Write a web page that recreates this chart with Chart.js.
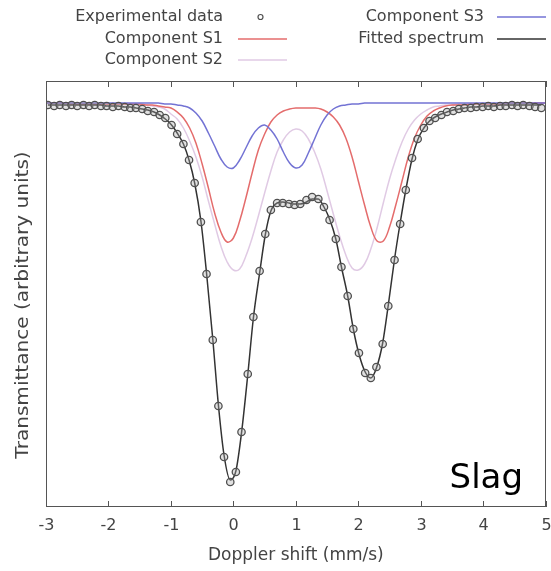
<!DOCTYPE html>
<html>
<head>
<meta charset="utf-8">
<script src="https://cdn.jsdelivr.net/npm/chart.js@4/dist/chart.umd.min.js"></script>
<style>
  html, body { margin: 0; padding: 0; background: #fff; }
</style>
</head>
<body>
<canvas id="spectrum" width="551" height="571"></canvas>
<script>
// Doppler velocity of each measured channel (mm/s)
const channelVelocity = [
  -2.97, -2.87, -2.78, -2.68, -2.59, -2.50, -2.40, -2.31, -2.22, -2.12,
  -2.03, -1.93, -1.84, -1.74, -1.65, -1.56, -1.46, -1.37, -1.27, -1.18,
  -1.09, -0.99, -0.90, -0.80, -0.71, -0.62, -0.52, -0.43, -0.33, -0.24,
  -0.15, -0.05, 0.04, 0.13, 0.23, 0.32, 0.42, 0.51, 0.60, 0.70,
  0.79, 0.89, 0.98, 1.07, 1.17, 1.26, 1.36, 1.45, 1.54, 1.64,
  1.73, 1.83, 1.92, 2.01, 2.11, 2.20, 2.29, 2.39, 2.48, 2.58,
  2.67, 2.76, 2.86, 2.95, 3.05, 3.14, 3.23, 3.33, 3.42, 3.52,
  3.61, 3.70, 3.80, 3.89, 3.99, 4.08, 4.17, 4.27, 4.36, 4.46,
  4.55, 4.64, 4.74, 4.83, 4.93
];

// measured transmittance per channel
const measured = [
  0.998, 0.997, 0.998, 0.997, 0.998, 0.997, 0.998, 0.997, 0.998, 0.997,
  0.997, 0.996, 0.997, 0.996, 0.995, 0.995, 0.994, 0.992, 0.991, 0.988,
  0.985, 0.978, 0.969, 0.959, 0.943, 0.920, 0.881, 0.829, 0.763, 0.697,
  0.646, 0.621, 0.631, 0.671, 0.729, 0.786, 0.832, 0.869, 0.893, 0.900,
  0.900, 0.899, 0.898, 0.899, 0.903, 0.906, 0.904, 0.896, 0.883, 0.864,
  0.836, 0.807, 0.774, 0.750, 0.730, 0.725, 0.736, 0.759, 0.797, 0.843,
  0.879, 0.913, 0.945, 0.964, 0.975, 0.982, 0.985, 0.988, 0.991, 0.992,
  0.994, 0.995, 0.995, 0.996, 0.996, 0.997, 0.996, 0.997, 0.997, 0.998,
  0.997, 0.998, 0.997, 0.996, 0.995
];

// fitted envelope on the same channels
const fitted = [
  0.998, 0.998, 0.998, 0.998, 0.998, 0.998, 0.998, 0.998, 0.998, 0.998,
  0.997, 0.997, 0.997, 0.996, 0.996, 0.995, 0.994, 0.993, 0.991, 0.988,
  0.984, 0.978, 0.970, 0.959, 0.943, 0.920, 0.882, 0.830, 0.764, 0.698,
  0.648, 0.623, 0.632, 0.670, 0.728, 0.785, 0.830, 0.868, 0.892, 0.900,
  0.901, 0.900, 0.899, 0.899, 0.901, 0.904, 0.904, 0.896, 0.884, 0.864,
  0.836, 0.807, 0.774, 0.749, 0.731, 0.725, 0.735, 0.760, 0.798, 0.844,
  0.880, 0.913, 0.944, 0.963, 0.975, 0.982, 0.986, 0.989, 0.991, 0.993,
  0.994, 0.995, 0.996, 0.996, 0.997, 0.997, 0.997, 0.998, 0.998, 0.998,
  0.998, 0.998, 0.998, 0.998, 0.998
];

// velocity grid for the sub-spectra
const componentVelocity = [
  -3.0, -2.9, -2.8, -2.7, -2.6, -2.5, -2.4, -2.3, -2.2, -2.1,
  -2.0, -1.9, -1.8, -1.7, -1.6, -1.5, -1.4, -1.3, -1.2, -1.1,
  -1.0, -0.9, -0.8, -0.7, -0.6, -0.5, -0.4, -0.3, -0.2, -0.1,
  0.0, 0.1, 0.2, 0.3, 0.4, 0.5, 0.6, 0.7, 0.8, 0.9,
  1.0, 1.1, 1.2, 1.3, 1.4, 1.5, 1.6, 1.7, 1.8, 1.9,
  2.0, 2.1, 2.2, 2.3, 2.4, 2.5, 2.6, 2.7, 2.8, 2.9,
  3.0, 3.1, 3.2, 3.3, 3.4, 3.5, 3.6, 3.7, 3.8, 3.9,
  4.0, 4.1, 4.2, 4.3, 4.4, 4.5, 4.6, 4.7, 4.8, 4.9,
  5.0
];

const componentS1 = [
  1.000, 1.000, 1.000, 1.000, 0.999, 0.999, 0.999, 0.999, 0.999, 0.999,
  0.999, 0.999, 0.999, 0.999, 0.999, 0.999, 0.998, 0.998, 0.997, 0.996,
  0.995, 0.991, 0.985, 0.975, 0.960, 0.939, 0.915, 0.890, 0.871, 0.861,
  0.865, 0.882, 0.905, 0.930, 0.953, 0.969, 0.981, 0.988, 0.992, 0.994,
  0.995, 0.995, 0.995, 0.995, 0.994, 0.991, 0.986, 0.978, 0.965, 0.946,
  0.922, 0.898, 0.876, 0.862, 0.862, 0.876, 0.898, 0.922, 0.946, 0.965,
  0.978, 0.987, 0.992, 0.995, 0.997, 0.998, 0.998, 0.998, 0.999, 0.999,
  0.999, 0.999, 0.999, 0.999, 1.000, 1.000, 1.000, 1.000, 1.000, 1.000,
  1.000
];

const componentS2 = [
  1.000, 1.000, 1.000, 1.000, 1.000, 1.000, 0.999, 0.999, 0.999, 0.999,
  0.999, 0.999, 0.999, 0.999, 0.999, 0.998, 0.998, 0.997, 0.996, 0.994,
  0.989, 0.984, 0.975, 0.962, 0.946, 0.926, 0.902, 0.879, 0.857, 0.841,
  0.833, 0.834, 0.847, 0.865, 0.887, 0.910, 0.932, 0.951, 0.963, 0.971,
  0.974, 0.972, 0.964, 0.951, 0.934, 0.912, 0.889, 0.867, 0.848, 0.835,
  0.833, 0.839, 0.854, 0.875, 0.900, 0.924, 0.944, 0.961, 0.974, 0.983,
  0.989, 0.993, 0.996, 0.997, 0.998, 0.998, 0.999, 0.999, 0.999, 0.999,
  0.999, 0.999, 0.999, 0.999, 0.999, 1.000, 1.000, 1.000, 1.000, 1.000,
  1.000
];

const componentS3 = [
  1.000, 1.000, 1.000, 1.000, 1.000, 1.000, 1.000, 1.000, 1.000, 1.000,
  1.000, 1.000, 1.000, 1.000, 1.000, 1.000, 1.000, 1.000, 1.000, 0.999,
  0.999, 0.998, 0.997, 0.995, 0.990, 0.982, 0.970, 0.957, 0.944, 0.936,
  0.935, 0.943, 0.955, 0.967, 0.975, 0.978, 0.973, 0.964, 0.951, 0.940,
  0.935, 0.938, 0.950, 0.964, 0.978, 0.988, 0.994, 0.997, 0.998, 0.999,
  0.999, 1.000, 1.000, 1.000, 1.000, 1.000, 1.000, 1.000, 1.000, 1.000,
  1.000, 1.000, 1.000, 1.000, 1.000, 1.000, 1.000, 1.000, 1.000, 1.000,
  1.000, 1.000, 1.000, 1.000, 1.000, 1.000, 1.000, 1.000, 1.000, 1.000,
  1.000
];

const velocityTicks = [-3, -2, -1, 0, 1, 2, 3, 4, 5];

const textFont = '"DejaVu Sans", sans-serif';
const textColor = '#444';

function toPoints(xs, ys) {
    return xs.map((x, i) => ({ x: x, y: ys[i] }));
}

// legend in two right-aligned columns, gnuplot style
const legendSlots = [
    { label: 'Experimental data', right: 223, y: 17, x0: 238, x1: 287 },
    { label: 'Component S1', right: 223, y: 39, x0: 238, x1: 287 },
    { label: 'Component S2', right: 223, y: 60, x0: 238, x1: 287 },
    { label: 'Component S3', right: 484, y: 17, x0: 497, x1: 546 },
    { label: 'Fitted spectrum', right: 484, y: 39, x0: 497, x1: 546 }
];

const framePlugin = {
    id: 'frameAndText',
    afterDraw(chart) {
        const c = chart.ctx;
        const area = chart.chartArea;
        const xScale = chart.scales.x;
        c.save();

        // plot border
        c.strokeStyle = '#555';
        c.lineWidth = 1;
        c.strokeRect(Math.round(area.left) + 0.5, Math.round(area.top) + 0.5,
            Math.round(area.right - area.left) - 1, Math.round(area.bottom - area.top) - 1);

        // inward ticks on top and bottom, labels underneath
        c.font = '16px ' + textFont;
        c.fillStyle = textColor;
        c.textAlign = 'center';
        c.textBaseline = 'middle';
        velocityTicks.forEach(v => {
            const px = Math.round(xScale.getPixelForValue(v)) + 0.5;
            c.beginPath();
            c.moveTo(px, area.bottom);
            c.lineTo(px, area.bottom - 6);
            c.moveTo(px, area.top);
            c.lineTo(px, area.top + 6);
            c.stroke();
            c.fillText(String(v), px, area.bottom + 19);
        });

        // axis titles
        c.font = '17px ' + textFont;
        c.fillText('Doppler shift (mm/s)', (area.left + area.right) / 2, area.bottom + 49);
        c.save();
        c.translate(24, 305);
        c.rotate(-Math.PI / 2);
        c.scale(1.18, 1);
        c.fillText('Transmittance (arbitrary units)', 0, 0);
        c.restore();

        // legend
        c.font = '16px ' + textFont;
        c.textAlign = 'right';
        legendSlots.forEach(slot => {
            const ds = chart.data.datasets.find(d => d.label === slot.label);
            c.fillStyle = textColor;
            c.fillText(slot.label, slot.right, slot.y);
            if (ds.showLine === false) {
                c.beginPath();
                c.arc((slot.x0 + slot.x1) / 2 - 2, slot.y, 2.5, 0, Math.PI * 2);
                c.strokeStyle = ds.pointBorderColor;
                c.lineWidth = 1.2;
                c.stroke();
            } else {
                c.beginPath();
                c.moveTo(slot.x0, slot.y);
                c.lineTo(slot.x1, slot.y);
                c.strokeStyle = ds.borderColor;
                c.lineWidth = ds.borderWidth;
                c.stroke();
            }
        });

        // sample name
        c.font = '34px ' + textFont;
        c.fillStyle = '#000';
        c.textAlign = 'right';
        c.textBaseline = 'alphabetic';
        c.fillText('Slag', 523, 488);

        c.restore();
    }
};

new Chart(document.getElementById('spectrum'), {
    type: 'line',
    data: {
        datasets: [
            {
                label: 'Experimental data',
                data: toPoints(channelVelocity, measured),
                showLine: false,
                pointRadius: 3.7,
                pointBorderWidth: 1.3,
                pointBorderColor: '#505050',
                pointBackgroundColor: 'rgba(170,170,170,0.35)',
                order: 0
            },
            {
                label: 'Fitted spectrum',
                data: toPoints(channelVelocity, fitted),
                borderColor: '#333333',
                borderWidth: 1.5,
                pointRadius: 0,
                cubicInterpolationMode: 'monotone',
                order: 1
            },
            {
                label: 'Component S3',
                data: toPoints(componentVelocity, componentS3),
                borderColor: 'rgb(115,115,212)',
                borderWidth: 1.5,
                pointRadius: 0,
                tension: 0.4,
                order: 2
            },
            {
                label: 'Component S1',
                data: toPoints(componentVelocity, componentS1),
                borderColor: 'rgb(228,108,108)',
                borderWidth: 1.5,
                pointRadius: 0,
                tension: 0.4,
                order: 3
            },
            {
                label: 'Component S2',
                data: toPoints(componentVelocity, componentS2),
                borderColor: 'rgb(224,202,228)',
                borderWidth: 1.5,
                pointRadius: 0,
                tension: 0.4,
                order: 4
            }
        ]
    },
    options: {
        responsive: false,
        animation: false,
        layout: { padding: { left: 46, right: 1, top: 81, bottom: 64 } },
        plugins: {
            legend: { display: false },
            tooltip: { enabled: false }
        },
        scales: {
            x: { type: 'linear', display: false, min: -3, max: 5 },
            y: { type: 'linear', display: false, min: 0.596, max: 1.022 }
        }
    },
    plugins: [framePlugin]
});
</script>
</body>
</html>
